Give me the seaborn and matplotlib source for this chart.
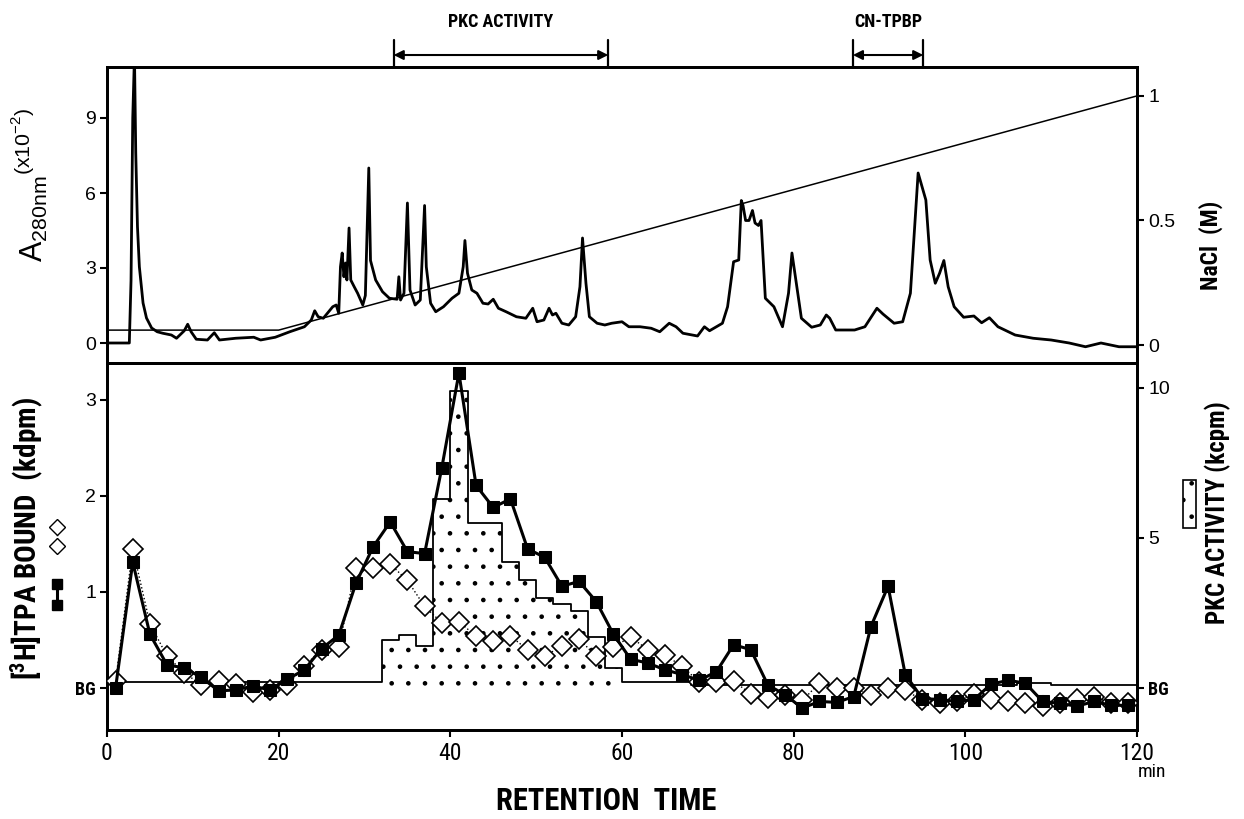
import matplotlib
matplotlib.use('Agg')
import numpy as np
import matplotlib.pyplot as plt
import matplotlib.transforms as mtransforms
import seaborn as sns
from matplotlib import font_manager
from matplotlib.lines import Line2D
from matplotlib.patches import Rectangle

# chromatogram, A280 (x10^-2) against retention time (min)
chrom_t = [0, 2.6, 2.8, 3.0, 3.2, 3.35, 3.55, 3.77, 4.2, 4.6, 5.2, 5.85, 6.5, 7.5, 8.1,
           9.0, 9.4, 9.8, 10.4, 11.7, 12.5, 13.1, 15.0, 17.1, 17.9, 19.6, 21.3, 23.0, 23.8,
           24.2, 24.6, 25.2, 26.3, 26.7, 27.0, 27.2, 27.4, 27.6, 27.8, 27.95, 28.2, 28.4,
           28.8, 29.2, 29.8, 30.1, 30.5, 30.7, 31.3, 32.1, 32.9, 33.8, 34.0, 34.2, 34.6,
           35.0, 35.3, 35.9, 36.5, 37.0, 37.2, 37.7, 38.3, 39.2, 40.2, 41.0, 41.5, 41.7,
           42.0, 42.5, 43.1, 43.8, 44.4, 45.0, 45.6, 46.5, 47.7, 48.8, 49.6, 50.1, 50.9,
           51.5, 51.9, 52.3, 53.0, 53.8, 54.6, 55.1, 55.4, 55.8, 56.2, 57.1, 58.0, 58.8,
           60.0, 60.8, 62.1, 63.4, 64.4, 65.5, 66.3, 67.1, 68.8, 69.6, 70.2, 71.7, 72.3,
           73.0, 73.6, 73.9, 74.1, 74.4, 74.8, 75.2, 75.5, 75.9, 76.2, 76.7, 77.7, 78.7,
           79.4, 79.8, 80.2, 80.9, 82.1, 83.1, 83.8, 84.2, 84.9, 87.1, 88.3, 89.7, 90.4,
           91.7, 92.7, 93.6, 94.1, 94.5, 95.0, 95.4, 95.9, 96.5, 97.0, 97.5, 98.0, 98.7,
           99.8, 101.0, 101.9, 102.8, 103.8, 105.8, 107.9, 110.0, 112.1, 114.0, 115.8,
           117.9, 120]
chrom_a = [0, 0, 2.5, 9.0, 11.5, 7.6, 4.65, 3.05, 1.6, 1.0, 0.6, 0.45, 0.39, 0.32, 0.19,
           0.49, 0.75, 0.45, 0.15, 0.12, 0.41, 0.12, 0.19, 0.23, 0.12, 0.23, 0.45, 0.65, 0.92,
           1.29, 1.05, 0.99, 1.45, 1.52, 1.19, 3.05, 3.6, 2.65, 3.2, 2.52, 4.6, 2.52,
           2.25, 1.99, 1.52, 1.9, 7.0, 3.3, 2.52, 2.05, 1.79, 1.75, 2.65, 1.72, 1.99,
           5.6, 2.12, 1.52, 1.72, 5.5, 3.05, 1.59, 1.25, 1.45, 1.79, 1.99, 3.05, 4.1,
           2.79, 2.12, 1.99, 1.59, 1.56, 1.75, 1.39, 1.25, 1.05, 0.99, 1.39, 0.85, 0.92,
           1.39, 1.12, 1.19, 0.79, 0.72, 1.05, 2.25, 4.2, 2.39, 1.05, 0.79, 0.72, 0.79,
           0.85, 0.65, 0.65, 0.59, 0.45, 0.79, 0.65, 0.39, 0.28, 0.65, 0.49, 0.79, 1.45,
           3.25, 3.32, 5.7, 5.5, 4.9, 4.9, 5.3, 4.8, 4.7, 4.9, 1.79, 1.45, 0.65,
           1.99, 3.6, 2.65, 0.99, 0.63, 0.72, 1.12, 0.99, 0.52, 0.52, 0.65, 1.39, 1.16,
           0.79, 0.85, 1.99, 4.65, 6.8, 6.2, 5.72, 3.32, 2.39, 2.79, 3.3, 2.25, 1.45,
           1.03, 1.08, 0.81, 1.01, 0.65, 0.32, 0.19, 0.12, 0.0, -0.15, 0.0,
           -0.15, -0.15]

# NaCl gradient (M)
nacl_t = [0, 20, 120]
nacl_m = [0.06, 0.06, 1.0]

# fractions, every 2 min
frac_t = list(range(1, 120, 2))
tpa_filled = [0.0, 1.31, 0.56, 0.24, 0.21, 0.11, -0.03, -0.02, 0.02, -0.02,
              0.09, 0.19, 0.41, 0.55, 1.09, 1.47, 1.73, 1.42, 1.40, 2.29,
              3.28, 2.11, 1.88, 1.97, 1.45, 1.36, 1.06, 1.11, 0.90, 0.56,
              0.30, 0.26, 0.19, 0.14, 0.08, 0.17, 0.45, 0.40, 0.03, -0.07,
              -0.21, -0.14, -0.15, -0.09, 0.64, 1.06, 0.14, -0.11, -0.12, -0.14,
              -0.12, 0.04, 0.08, 0.05, -0.14, -0.16, -0.19, -0.14, -0.18, -0.18]
tpa_open = [0.07, 1.45, 0.67, 0.33, 0.16, 0.03, 0.07, 0.04, -0.04, -0.02,
            0.03, 0.23, 0.40, 0.43, 1.25, 1.25, 1.29, 1.12, 0.85, 0.68,
            0.69, 0.54, 0.49, 0.54, 0.40, 0.33, 0.44, 0.51, 0.33, 0.43,
            0.53, 0.40, 0.34, 0.23, 0.06, 0.06, 0.07, -0.06, -0.10, -0.07,
            -0.13, 0.05, 0.00, 0.00, -0.07, 0.00, -0.02, -0.13, -0.16, -0.14,
            -0.06, -0.11, -0.14, -0.16, -0.19, -0.16, -0.11, -0.09, -0.16, -0.16]
pkc_edges = list(range(0, 122, 2))
pkc_kcpm = [0.2] * 16 + [1.6, 1.75, 1.4, 6.3, 9.9, 5.5, 5.5, 4.2, 3.6, 3.0, 2.8, 2.55, 1.7, 0.65] \
           + [0.2] * 4 + [0.1] * 19 + [0.15, 0.15] + [0.1] * 5

sns.set_theme(style='ticks')
names = {f.name for f in font_manager.fontManager.ttflist}
narrow = next((n for n in ['Liberation Sans Narrow', 'DejaVu Sans Condensed', 'Roboto Condensed']
               if n in names), 'Liberation Sans')
plt.rcParams['font.family'] = ['Liberation Sans', 'DejaVu Sans']
plt.rcParams['mathtext.fontset'] = 'custom'
plt.rcParams['mathtext.rm'] = 'Liberation Sans'
plt.rcParams['hatch.linewidth'] = 0.9
plt.rcParams['text.color'] = 'black'
plt.rcParams['axes.labelcolor'] = 'black'

W, H = 1244, 819
def fx(x):
    return x / W
def fy(y):
    return 1 - y / H

fig = plt.figure(figsize=(12.44, 8.19), dpi=100)
L, R = fx(107), fx(1137)
ax_top = fig.add_axes([L, fy(363), R - L, fy(67) - fy(363)])
ax_bot = fig.add_axes([L, fy(730), R - L, fy(363) - fy(730)])
ax_top2 = ax_top.twinx()
ax_bot2 = ax_bot.twinx()

bold = dict(family=[narrow, 'DejaVu Sans'], fontweight='bold', fontstretch='condensed')

# top panel
sns.lineplot(x=chrom_t, y=chrom_a, ax=ax_top, color='black', linewidth=2.0,
             estimator=None, sort=False)
sns.lineplot(x=nacl_t, y=nacl_m, ax=ax_top2, color='black', linewidth=1.1, estimator=None)
ax_top.set_xlim(0, 120)
ax_top.set_ylim(-0.8, 11.04)
ax_top2.set_ylim(-0.072, 1.116)
ax_top.set_yticks([0, 3, 6, 9])
ax_top2.set_yticks([0, 0.5, 1], ['0', '0.5', '1'])
ax_top.tick_params(axis='x', bottom=False, labelbottom=False)

# bottom panel: PKC histogram on the right axis
centers = [e + 1 for e in pkc_edges[:-1]]
sns.histplot(x=centers, weights=pkc_kcpm, bins=pkc_edges, element='step', fill=False,
             color='black', linewidth=1.3, ax=ax_bot2)
stip = slice(16, 30)
sns.histplot(x=centers[stip], weights=pkc_kcpm[stip], bins=pkc_edges[16:31], element='step',
             fill=True, color='white', alpha=1, linewidth=0, ax=ax_bot2)
for coll in ax_bot2.collections:
    coll.set_facecolor('white')
    coll.set_edgecolor('black')
    coll.set_linewidth(0)
    coll.set_hatch('.')
ax_bot2.lines[0].set_zorder(3)

sns.lineplot(x=frac_t, y=tpa_open, ax=ax_bot, color='black', linewidth=1.0, linestyle=':',
             marker='D', markersize=10, markerfacecolor='white', markeredgecolor='black',
             markeredgewidth=1.2, estimator=None, zorder=3)
sns.lineplot(x=frac_t, y=tpa_filled, ax=ax_bot, color='black', linewidth=2.2,
             marker='s', markersize=8, markeredgecolor='black', estimator=None, zorder=4)
ax_bot.set_zorder(ax_bot2.get_zorder() + 1)
ax_bot.patch.set_visible(False)

ax_bot.set_xlim(0, 120)
ax_bot.set_ylim(-0.4375, 3.385)
ax_bot2.set_ylim(-1.4, 10.83)
ax_bot.set_yticks([0, 1, 2, 3], ['BG', '1', '2', '3'])
ax_bot2.set_yticks([0, 5, 10], ['BG', '5', '10'])
ax_bot.set_xticks(range(0, 121, 20))

for ax in (ax_top, ax_top2, ax_bot, ax_bot2):
    ax.set_xlabel('')
    ax.set_ylabel('')
    for s in ax.spines.values():
        s.set_visible(True)
        s.set_linewidth(2.0)
        s.set_color('black')
    ax.tick_params(direction='out', length=5, width=1.5, labelsize=14, pad=3, colors='black')
ax_bot.tick_params(axis='x', labelsize=17, length=5, pad=4)
for lab in ax_bot.get_xticklabels():
    lab.set_fontfamily([narrow, 'DejaVu Sans'])
for ax in (ax_bot, ax_bot2):
    lab = ax.get_yticklabels()[0]
    lab.set_fontfamily([narrow, 'DejaVu Sans'])
    lab.set_fontweight('bold')
    lab.set_fontsize(13)

# bracket annotations above the top panel
blend = mtransforms.blended_transform_factory(ax_top.transData, ax_top.transAxes)
for (a, b, txt) in [(33.4, 58.4, 'PKC ACTIVITY'), (86.9, 95.1, 'CN-TPBP')]:
    for xv in (a, b):
        ax_top.plot([xv, xv], [1.0, 1.091], transform=blend, clip_on=False, color='black', lw=1.6)
    ax_top.annotate('', xy=(b, 1.0405), xytext=(a, 1.0405), xycoords=blend, textcoords=blend,
                    arrowprops=dict(arrowstyle='<|-|>', color='black', lw=1.5,
                                    shrinkA=0, shrinkB=0, mutation_scale=14))
    ax_top.text((a + b) / 2, 1.152, txt, transform=blend, ha='center', va='center',
                fontsize=13, **bold)

# axis titles
fig.text(fx(30), fy(185), r'A$_{\mathregular{280nm}}$$^{\mathregular{(x10^{-2})}}$',
         rotation=90, ha='center', va='center', fontsize=22)
fig.text(fx(1211), fy(245), 'NaCl  (M)', rotation=90, ha='center', va='center',
         fontsize=17, **bold)
fig.text(fx(27), fy(538), r'[$^{\mathregular{3}}$H]TPA BOUND  (kdpm)', rotation=90,
         ha='center', va='center', fontsize=21, **bold)
fig.text(fx(1218), fy(513), 'PKC ACTIVITY (kcpm)', rotation=90, ha='center', va='center',
         fontsize=18, **bold)
fig.text(fx(606), fy(801), 'RETENTION  TIME', ha='center', va='center', fontsize=22, **bold)
fig.text(fx(1152), fy(772), 'min', ha='center', va='center', fontsize=14,
         family=[narrow, 'DejaVu Sans'])

# symbol keys beside the axis titles
fig.add_artist(Line2D([fx(57), fx(57)], [fy(527), fy(546)], transform=fig.transFigure,
                      marker='D', markersize=8, markerfacecolor='white', markeredgecolor='black',
                      color='black', linestyle=':', linewidth=1))
fig.add_artist(Line2D([fx(57), fx(57)], [fy(584), fy(605)], transform=fig.transFigure,
                      marker='s', markersize=7, color='black', linewidth=2.2))
fig.add_artist(Rectangle((fx(1183), fy(528)), 13 / W, 48 / H, transform=fig.transFigure,
                         facecolor='white', edgecolor='black', hatch='.', linewidth=1.2))

fig.savefig('out.png', dpi=100)
